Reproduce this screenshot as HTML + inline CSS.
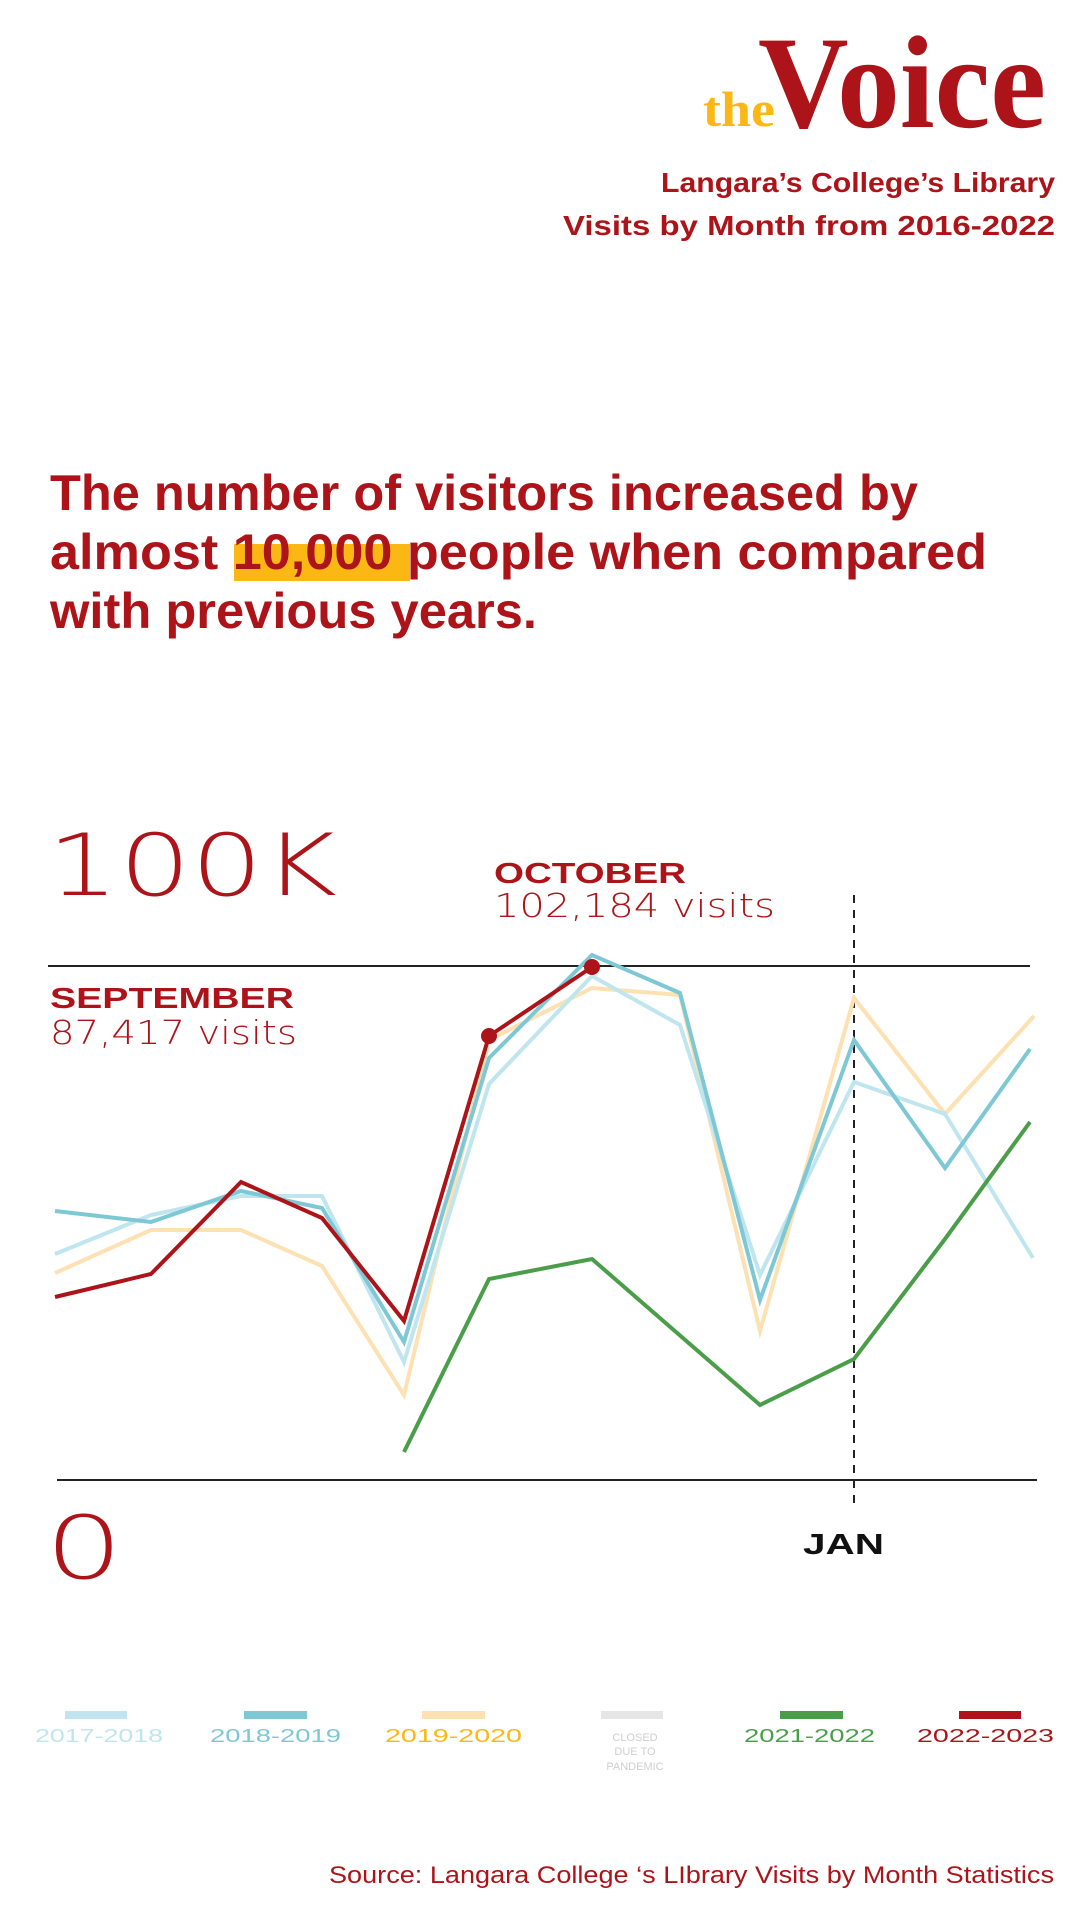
<!DOCTYPE html>
<html><head><meta charset="utf-8"><style>
html,body{margin:0;padding:0;background:#fff;}
svg{display:block;}
</style></head><body>
<svg width="1080" height="1920" viewBox="0 0 1080 1920" xmlns="http://www.w3.org/2000/svg" font-family="Liberation Sans, sans-serif">
<rect width="1080" height="1920" fill="#fff"/>
<!-- logo -->
<text x="703" y="126" style="font-family:'Liberation Serif',serif;font-weight:bold" font-size="50" fill="#fbb814" textLength="72" lengthAdjust="spacingAndGlyphs">the</text>
<text x="758" y="127" style="font-family:'Liberation Serif',serif;font-weight:bold" font-size="132" fill="#ad1419" textLength="288" lengthAdjust="spacingAndGlyphs">Voice</text>
<text x="661" y="192" font-weight="bold" font-size="28" fill="#ad1419" textLength="394" lengthAdjust="spacingAndGlyphs">Langara’s College’s Library</text>
<text x="563" y="235" font-weight="bold" font-size="28" fill="#ad1419" textLength="492" lengthAdjust="spacingAndGlyphs">Visits by Month from 2016-2022</text>
<!-- headline -->
<rect x="234" y="544" width="176" height="37" fill="#fbb814"/>
<text x="50" y="510" font-weight="bold" font-size="50" fill="#ad1419" textLength="868" lengthAdjust="spacingAndGlyphs">The number of visitors increased by</text>
<text x="50" y="569" font-weight="bold" font-size="50" fill="#ad1419" textLength="937" lengthAdjust="spacingAndGlyphs">almost 10,000 people when compared</text>
<text x="50" y="628" font-weight="bold" font-size="50" fill="#ad1419" textLength="487" lengthAdjust="spacingAndGlyphs">with previous years.</text>
<!-- chart labels -->
<text x="47" y="895" style="font-family:'DejaVu Sans',sans-serif;font-weight:200" font-size="86" fill="#ad1419" textLength="290" lengthAdjust="spacingAndGlyphs">100K</text>
<text x="494" y="883" font-weight="bold" font-size="29" fill="#ad1419" textLength="192" lengthAdjust="spacingAndGlyphs">OCTOBER</text>
<text x="494" y="917" style="font-family:'DejaVu Sans',sans-serif;font-weight:200" font-size="33" fill="#ad1419" textLength="281" lengthAdjust="spacingAndGlyphs">102,184 visits</text>
<text x="50" y="1008" font-weight="bold" font-size="29" fill="#ad1419" textLength="244" lengthAdjust="spacingAndGlyphs">SEPTEMBER</text>
<text x="50" y="1044" style="font-family:'DejaVu Sans',sans-serif;font-weight:200" font-size="33" fill="#ad1419" textLength="247" lengthAdjust="spacingAndGlyphs">87,417 visits</text>
<text x="45" y="1578" style="font-family:'DejaVu Sans',sans-serif;font-weight:200" font-size="87" fill="#ad1419" textLength="78" lengthAdjust="spacingAndGlyphs">0</text>
<text x="803" y="1554" font-weight="bold" font-size="29" fill="#111" textLength="81" lengthAdjust="spacingAndGlyphs">JAN</text>
<!-- axes -->
<line x1="48" y1="966" x2="1030" y2="966" stroke="#222" stroke-width="2"/>
<line x1="57" y1="1480" x2="1037" y2="1480" stroke="#222" stroke-width="2"/>
<line x1="854" y1="895" x2="854" y2="1508" stroke="#222" stroke-width="2" stroke-dasharray="8,7"/>
<!-- series -->
<g fill="none" stroke-width="4" stroke-linejoin="miter">
<polyline stroke="#fde1b3" points="55,1273 151,1230 241,1230 322,1266 404,1395 489,1040 592,988 680,995 760,1331 854,998 945,1114 1034,1016"/>
<polyline stroke="#bfe6ee" points="55,1254 151,1215 241,1196 322,1196 404,1362 489,1084 592,976 680,1025 760,1275 854,1082 945,1114 1033,1258"/>
<polyline stroke="#7ec8d6" points="55,1211 151,1222 241,1191 322,1208 404,1342 489,1058 592,955 680,993 760,1300 854,1040 945,1168 1030,1049"/>
<polyline stroke="#4a9e4a" points="404,1452 489,1279 592,1259 760,1405 854,1359 945,1239 1030,1122"/>
<polyline stroke="#ad1419" points="55,1297 151,1274 241,1182 322,1218 404,1321 489,1036 592,967"/>
</g>
<ellipse cx="489" cy="1036" rx="8" ry="8" fill="#ad1419"/>
<ellipse cx="592" cy="967" rx="8" ry="8" fill="#ad1419"/>
<!-- legend -->
<rect x="65" y="1711" width="62" height="8" fill="#bfe6ee"/>
<rect x="244" y="1711" width="63" height="8" fill="#7ec8d6"/>
<rect x="422" y="1711" width="63" height="8" fill="#fde1b3"/>
<rect x="601" y="1711" width="62" height="8" fill="#e6e6e6"/>
<rect x="780" y="1711" width="63" height="8" fill="#4a9e4a"/>
<rect x="959" y="1711" width="62" height="8" fill="#ad1419"/>
<g font-size="18">
<text x="35" y="1742" fill="#bfe6ee" textLength="128" lengthAdjust="spacingAndGlyphs">2017-2018</text>
<text x="210" y="1742" fill="#7ec8d6" textLength="131" lengthAdjust="spacingAndGlyphs">2018-2019</text>
<text x="385" y="1742" fill="#fbb814" textLength="137" lengthAdjust="spacingAndGlyphs">2019-2020</text>
<text x="744" y="1742" fill="#4a9e4a" textLength="131" lengthAdjust="spacingAndGlyphs">2021-2022</text>
<text x="917" y="1742" fill="#ad1419" textLength="137" lengthAdjust="spacingAndGlyphs">2022-2023</text>
</g>
<g font-size="11" fill="#cfcfcf" text-anchor="middle">
<text x="635" y="1741">CLOSED</text>
<text x="635" y="1755">DUE TO</text>
<text x="635" y="1770">PANDEMIC</text>
</g>
<text x="329" y="1883" font-size="24" fill="#ad1419" textLength="725" lengthAdjust="spacingAndGlyphs">Source: Langara College ‘s LIbrary Visits by Month Statistics</text>
</svg>
</body></html>
